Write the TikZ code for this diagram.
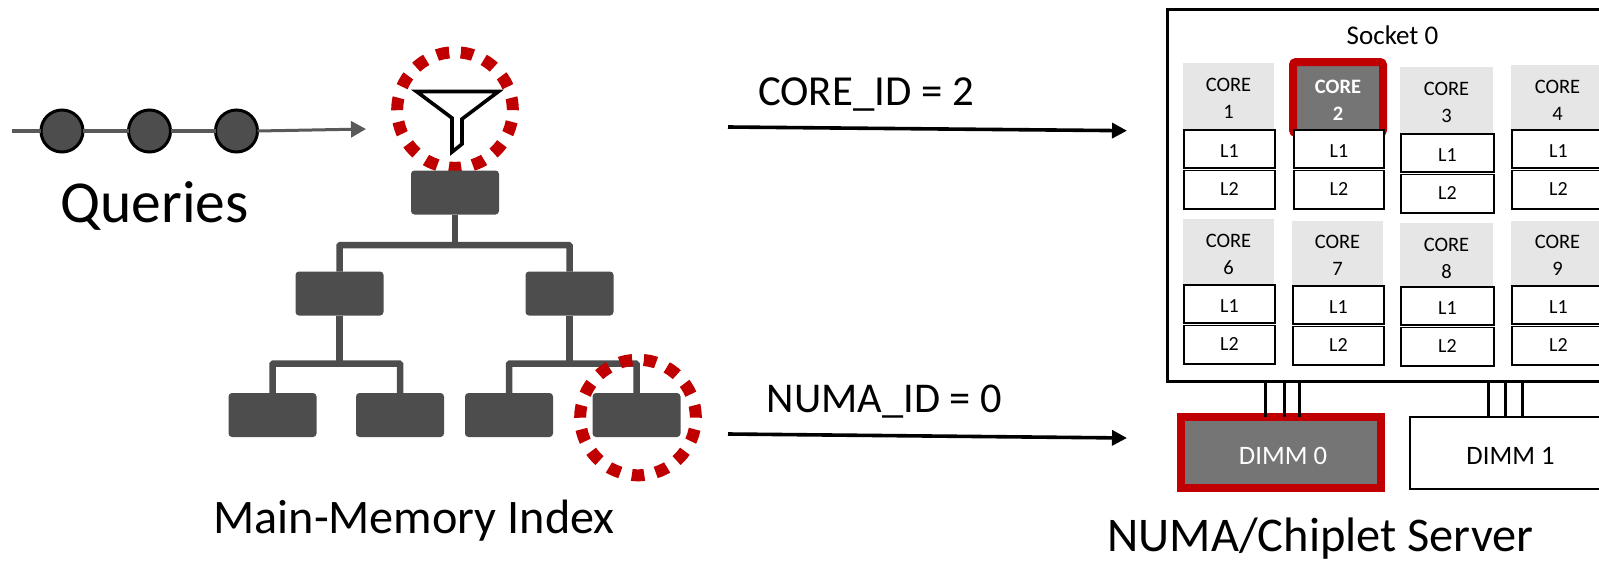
\documentclass[tikz,border=0pt]{standalone}
\usepackage{fontspec}
\setmainfont{Carlito}
\usetikzlibrary{arrows.meta,calc}
\definecolor{hred}{HTML}{C00000}
\definecolor{tdark}{HTML}{4D4D4D}
\definecolor{qline}{HTML}{595959}
\definecolor{cgray}{HTML}{E7E6E6}
\definecolor{cdark}{HTML}{757575}
\tikzset{
  every node/.style={inner sep=0pt,outer sep=0pt},
  treenode/.style={fill=tdark,rounded corners=3.5pt,minimum width=88pt,minimum height=44pt},
  treelink/.style={draw=tdark,line width=6.5pt,rounded corners=1pt},
  query/.style={circle,draw=black,fill=tdark,line width=3pt,minimum size=42pt},
  qlink/.style={draw=qline,line width=3.5pt},
  qarrow/.style={draw=qline,line width=3pt,-{Triangle[length=15pt,width=16pt]}},
  highlight/.style={circle,draw=hred,line width=12pt,minimum size=115.6pt,dash pattern=on 12.5pt off 11.71pt,dash phase=0.2pt},
  funnel/.style={draw=black,line width=3.6pt,fill=white,line join=miter},
  bigarrow/.style={draw=black,line width=3.6pt,-{Triangle[length=15pt,width=15pt]}},
  title/.style={anchor=base,text=black},
  cell/.style={draw=black,line width=1.6pt,fill=white,font=\fontsize{20}{22}\selectfont},
  coretxt/.style={align=center,font=\fontsize{20.5}{27}\selectfont},
  socketbox/.style={draw=black,line width=3pt,fill=white},
  bus/.style={draw=black,line width=3pt},
  dimmtxt/.style={font=\fontsize{26.6}{30}\selectfont,text height=23pt,text depth=0pt}
}
% #1 id, #2 gray left, #3 gray right, #4 gray top, #5 L1 top
\newcommand\cachepair[5]{%
  \pgfmathsetmacro\cx{(#2+#3)/2}%
  \pgfmathsetmacro\lxa{\cx+1}%
  \pgfmathsetmacro\lwid{#3-#2}%
  \pgfmathsetmacro\lya{#5+19}%
  \pgfmathsetmacro\lyb{#5+59.6}%
  \node[cell,minimum width=\lwid pt,minimum height=38pt,text height=16pt,text depth=0pt] (l1#1) at (\lxa,\lya) {L1};
  \node[cell,minimum width=\lwid pt,minimum height=38.6pt,text height=11pt,text depth=0pt] (l2#1) at (\lxa,\lyb) {L2};
}
% #1 id, #2 gray left, #3 gray right, #4 gray top, #5 L1 top, #6 first baseline
\newcommand\corecell[6]{%
  \pgfmathsetmacro\cx{(#2+#3)/2}%
  \pgfmathsetmacro\cy{(#4+#5)/2}%
  \pgfmathsetmacro\cw{#3-#2}%
  \pgfmathsetmacro\ch{#5-#4}%
  \pgfmathsetmacro\ty{#6+7}%
  \node[fill=cgray,minimum width=\cw pt,minimum height=\ch pt] (core#1) at (\cx,\cy) {};
  \node[coretxt] (coretext#1) at (\cx,\ty) {CORE\\#1};
  \cachepair{#1}{#2}{#3}{#4}{#5}
}
\begin{document}
\begin{tikzpicture}[x=1pt,y=-1pt]
\path[clip] (0,0) rectangle (1599,560);
\fill[white] (0,0) rectangle (1599,560);

% queries
\coordinate (qstart) at (12,131);
\coordinate (qtip) at (366,129);
\node[query] (q1) at (62,131) {};
\node[query] (q2) at (149.5,131) {};
\node[query] (q3) at (236.5,131) {};
\draw[qlink] (qstart) -- (q1);
\draw[qlink] (q1) -- (q2);
\draw[qlink] (q2) -- (q3);
\draw[qarrow] (q3.east) -- (qtip);
\node[title,font=\fontsize{59.5}{64}\selectfont] (querieslabel) at (154.5,222) {Queries};

% filter
\draw[funnel] (416.5,91.5) -- (498.5,91.5) -- (462,119) -- (462,144) -- (452,152) -- (452,118) -- cycle;
\node[highlight] (hlfilter) at (455,110) {};

% tree
\node[treenode] (root) at (455,192.5) {};
\node[treenode] (na) at (339.5,293.5) {};
\node[treenode] (nb) at (569.5,293.5) {};
\node[treenode] (la) at (272.5,415) {};
\node[treenode] (lb) at (400,415) {};
\node[treenode] (lc) at (509,415) {};
\node[treenode] (ld) at (636.5,415) {};
\coordinate (bar0) at (455,245);
\coordinate (bar1) at (339.5,363.5);
\coordinate (bar2) at (569.5,363.5);
\draw[treelink] (na.north) |- (bar0) -| (nb.north);
\draw[treelink] (root.south) -- (bar0);
\draw[treelink] (la.north) |- (bar1) -| (lb.north);
\draw[treelink] (na.south) -- (bar1);
\draw[treelink] (lc.north) |- (bar2) -| (ld.north);
\draw[treelink] (nb.south) -- (bar2);
\node[highlight] (hlleaf) at (638,417.5) {};
\node[title,font=\fontsize{48.2}{52}\selectfont] (indexlabel) at (414,533) {Main-Memory Index};

% arrows
\coordinate (a1s) at (728,127);
\coordinate (a1e) at (1127,130.7);
\coordinate (a2s) at (728,434);
\coordinate (a2e) at (1127,438);
\draw[bigarrow] (a1s) -- (a1e);
\draw[bigarrow] (a2s) -- (a2e);
\node[title,font=\fontsize{42.8}{46}\selectfont] (corelabel) at (866,105) {CORE\_ID = 2};
\node[title,font=\fontsize{42.4}{46}\selectfont] (numalabel) at (884.5,412.5) {NUMA\_ID = 0};

% socket
\node[socketbox,minimum width=533pt,minimum height=372pt] (socket) at (1433.5,195) {};
\node[title,font=\fontsize{27}{30}\selectfont] (socketlabel) at (1392.5,44) {Socket 0};

\corecell{1}{1183}{1274}{63}{130}{91}
\node[fill=cdark,draw=hred,line width=8pt,rounded corners=3pt,minimum width=90pt,minimum height=71pt] (core2) at (1338,97.5) {};
\node[coretxt,text=white,font=\fontsize{20.5}{27}\selectfont\bfseries] (coretext2) at (1338,100) {CORE\\2};
\cachepair{2}{1293}{1383}{66}{130}
\corecell{3}{1400}{1493}{67}{134}{95}
\corecell{4}{1511}{1604}{65}{130}{93}
\corecell{6}{1183}{1274}{219}{285}{247}
\corecell{7}{1292}{1383}{221}{286}{248}
\corecell{8}{1400}{1493}{223}{287}{251}
\corecell{9}{1511}{1604}{221}{286}{248}

% DIMMs
\node[fill=white,draw=black,line width=2.5pt,minimum width=201pt,minimum height=72pt,dimmtxt] (dimm1) at (1510.5,453) {DIMM 1};
\node[fill=cdark,draw=hred,line width=8pt,minimum width=200pt,minimum height=71pt,text=white,dimmtxt] (dimm0) at (1281,452.5) {\hspace*{4pt}DIMM 0};
\draw[bus] ([xshift=-16pt]dimm0.north) -- ([xshift=-16pt]dimm0.north |- socket.south);
\draw[bus] ([xshift=3pt]dimm0.north) -- ([xshift=3pt]dimm0.north |- socket.south);
\draw[bus] ([xshift=18pt]dimm0.north) -- ([xshift=18pt]dimm0.north |- socket.south);
\draw[bus] ([xshift=-22.5pt]dimm1.north) -- ([xshift=-22.5pt]dimm1.north |- socket.south);
\draw[bus] ([xshift=-5.5pt]dimm1.north) -- ([xshift=-5.5pt]dimm1.north |- socket.south);
\draw[bus] ([xshift=11.5pt]dimm1.north) -- ([xshift=11.5pt]dimm1.north |- socket.south);
\node[title,font=\fontsize{48.4}{52}\selectfont] (serverlabel) at (1320.5,551) {NUMA/Chiplet Server};
\end{tikzpicture}
\end{document}
